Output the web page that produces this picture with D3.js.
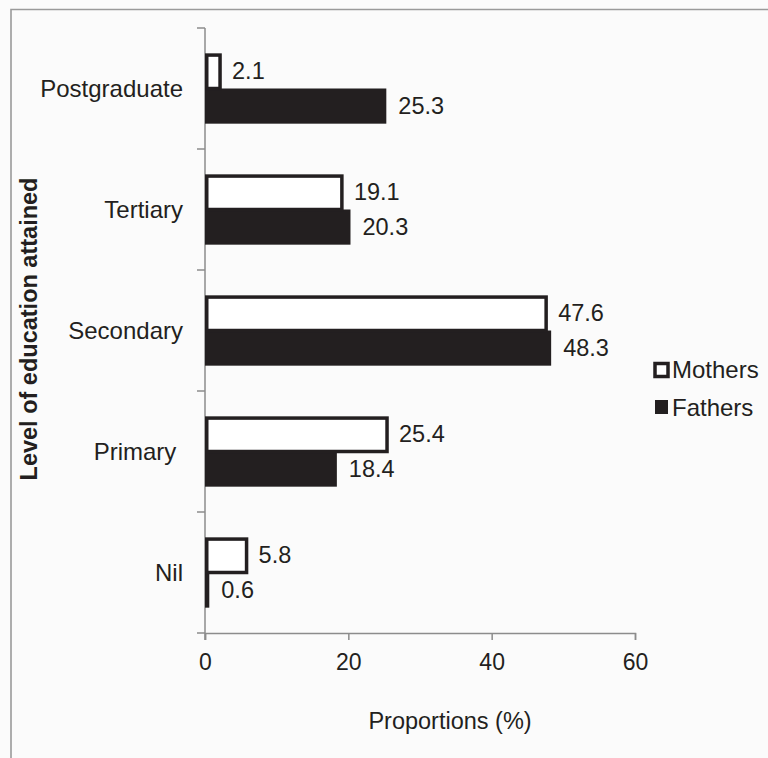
<!DOCTYPE html>
<html>
<head>
<meta charset="utf-8">
<script src="https://cdn.jsdelivr.net/npm/d3@7"></script>
<style>
  html, body { margin: 0; padding: 0; background: #fbfbfb; }
  svg { display: block; font-family: "Liberation Sans", Arial, sans-serif; }
</style>
</head>
<body>
<svg id="chart" width="768" height="758"></svg>
<script>
const categories = ["Postgraduate", "Tertiary", "Secondary", "Primary\u00a0", "Nil"];
const mothers = [2.1, 19.1, 47.6, 25.4, 5.8];
const fathers = [25.3, 20.3, 48.3, 18.4, 0.6];
const seriesNames = ["Mothers", "Fathers"];
const xTicks = [0, 20, 40, 60];

(function () {
const ink = "#231f20";
const axisGray = "#8c8c8c";

const svg = d3.select("#chart");

// outer frame (top and left visible)
svg.append("path")
  .attr("d", "M11,758 L11,9.5 L768,9.5")
  .attr("fill", "none").attr("stroke", "#9a9a9a").attr("stroke-width", 1.6);

const pl = 205, pr = 635, pt = 28, pb = 633;

const x = d3.scaleLinear().domain([0, 60]).range([pl, pr]);
const y = d3.scaleBand().domain(categories).range([pt, pb]).paddingInner(0).paddingOuter(0);
const inner = d3.scaleBand().domain(seriesNames).range([0, y.bandwidth()]).paddingOuter(0.72).paddingInner(0);

// y axis line
svg.append("line").attr("x1", pl).attr("x2", pl).attr("y1", pt).attr("y2", pb + 7)
  .attr("stroke", axisGray).attr("stroke-width", 1.5);
// y ticks at band boundaries
const boundaries = categories.map(c => y(c)).concat([pb]);
svg.selectAll(".ytick").data(boundaries).enter().append("line")
  .attr("x1", pl - 8).attr("x2", pl).attr("y1", d => d).attr("y2", d => d)
  .attr("stroke", axisGray).attr("stroke-width", 1.5);

// x axis
const xAxis = d3.axisBottom(x).tickValues(xTicks).tickSize(7).tickPadding(14).tickFormat(d3.format("d"));
const gx = svg.append("g").attr("transform", `translate(0,${pb})`).call(xAxis);
gx.select(".domain").attr("stroke", axisGray).attr("stroke-width", 1.5);
gx.selectAll(".tick line").attr("stroke", axisGray).attr("stroke-width", 1.5);
gx.selectAll(".tick text").attr("font-size", 23).attr("fill", ink)
  .attr("font-family", "'Liberation Sans', Arial, sans-serif");

// category labels
svg.selectAll(".cat").data(categories).enter().append("text")
  .attr("x", 183).attr("y", d => y(d) + y.bandwidth() / 2)
  .attr("text-anchor", "end").attr("dominant-baseline", "central")
  .attr("font-size", 24).attr("fill", ink)
  .style("white-space", "pre")
  .text(d => d);

// bars
const sw = 3.5;
const data = categories.map((c, i) => ({ c, m: mothers[i], f: fathers[i] }));

// fathers (filled)
svg.selectAll(".fbar").data(data).enter().append("rect")
  .attr("x", pl).attr("y", d => y(d.c) + inner("Fathers"))
  .attr("width", d => x(d.f) - pl).attr("height", inner.bandwidth())
  .attr("fill", ink);

// mothers (outlined)
svg.selectAll(".mbar").data(data).enter().append("rect")
  .attr("x", pl + sw / 2).attr("y", d => y(d.c) + inner("Mothers") + sw / 2)
  .attr("width", d => Math.max(0, x(d.m) - pl - sw / 2)).attr("height", inner.bandwidth() - sw / 2)
  .attr("fill", "#ffffff").attr("stroke", ink).attr("stroke-width", sw);

// value labels
svg.selectAll(".mlab").data(data).enter().append("text")
  .attr("x", d => x(d.m) + 12).attr("y", d => y(d.c) + inner("Mothers") + inner.bandwidth() / 2)
  .attr("dominant-baseline", "central").attr("font-size", 23.5).attr("fill", ink)
  .text(d => d.m.toFixed(1));
svg.selectAll(".flab").data(data).enter().append("text")
  .attr("x", d => x(d.f) + 12).attr("y", d => y(d.c) + inner("Fathers") + inner.bandwidth() / 2)
  .attr("dominant-baseline", "central").attr("font-size", 23.5).attr("fill", ink)
  .text(d => d.f.toFixed(1));

// axis titles
svg.append("text").attr("x", 450).attr("y", 721)
  .attr("text-anchor", "middle").attr("dominant-baseline", "central")
  .attr("font-size", 23.5).attr("fill", ink).text("Proportions (%)");
svg.append("text")
  .attr("transform", "translate(29,329) rotate(-90)")
  .attr("text-anchor", "middle").attr("dominant-baseline", "central")
  .attr("font-size", 23.5).attr("font-weight", "bold").attr("fill", ink)
  .text("Level of education attained");

// legend
const lg = svg.append("g");
lg.append("rect").attr("x", 655).attr("y", 363.5).attr("width", 13).attr("height", 13)
  .attr("fill", "#fff").attr("stroke", ink).attr("stroke-width", 3.5);
lg.append("rect").attr("x", 655).attr("y", 400).attr("width", 13).attr("height", 14)
  .attr("fill", ink);
lg.selectAll(".lt").data(seriesNames).enter().append("text")
  .attr("x", 672).attr("y", (d, i) => i === 0 ? 369 : 407)
  .attr("dominant-baseline", "central").attr("font-size", 24).attr("fill", ink)
  .text(d => d);
})();
</script>
</body>
</html>
